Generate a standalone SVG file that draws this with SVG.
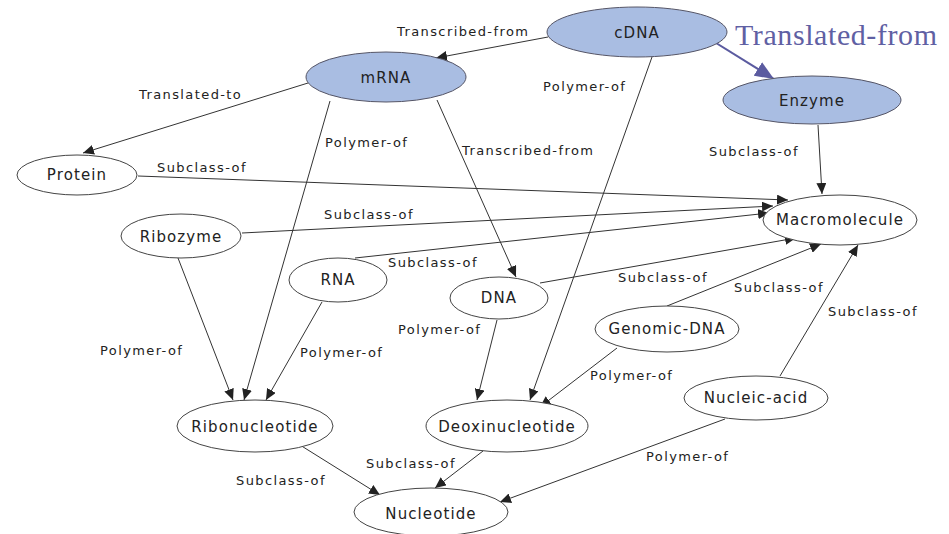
<svg xmlns="http://www.w3.org/2000/svg" width="949" height="534" viewBox="0 0 949 534">
<defs>
<marker id="ah" markerUnits="userSpaceOnUse" markerWidth="12" markerHeight="10" refX="11" refY="5" orient="auto"><path d="M0,0 L11,5 L0,10 Z" fill="#222"/></marker>
<marker id="bh" markerUnits="userSpaceOnUse" markerWidth="20" markerHeight="16" refX="19" refY="8" orient="auto"><path d="M0,0 L19,8 L0,16 Z" fill="#5b5ba0"/></marker>
</defs>
<style>
.n ellipse{fill:#fff;stroke:#444;stroke-width:1}
.n.b ellipse{fill:#a9bde2;stroke:#556;}
.n text{font-family:"DejaVu Sans",sans-serif;font-size:15px;letter-spacing:1.1px;fill:#222;text-anchor:middle;dominant-baseline:central}
.e line{stroke:#333;stroke-width:1;marker-end:url(#ah)}
.l{font-family:"DejaVu Sans",sans-serif;font-size:13px;letter-spacing:1.4px;fill:#222}
</style>
<rect width="949" height="534" fill="#fff"/>
<g id="edges" class="e">
<line x1="548" y1="37" x2="436" y2="58"/>
<line x1="308" y1="83" x2="83" y2="153"/>
<line x1="330" y1="101" x2="244" y2="400"/>
<line x1="437" y1="100" x2="516" y2="277"/>
<line x1="652" y1="57" x2="530" y2="400"/>
<line x1="818" y1="125" x2="822" y2="194"/>
<line x1="138" y1="176" x2="788" y2="200"/>
<line x1="242" y1="233" x2="773" y2="206"/>
<line x1="355" y1="258" x2="769" y2="213"/>
<line x1="540" y1="283" x2="796" y2="238"/>
<line x1="667" y1="306" x2="821" y2="244"/>
<line x1="780" y1="376" x2="858" y2="245"/>
<line x1="178" y1="258" x2="233" y2="400"/>
<line x1="322" y1="302" x2="266" y2="400"/>
<line x1="497" y1="320" x2="477" y2="400"/>
<line x1="617" y1="348" x2="540" y2="407"/>
<line x1="300" y1="445" x2="380" y2="495"/>
<line x1="483" y1="451" x2="435" y2="488"/>
<line x1="725" y1="419" x2="500" y2="502"/>
<line x1="700" y1="33" x2="774" y2="79" style="stroke:#5b5ba0;stroke-width:2;marker-end:url(#bh)"/>
</g>
<g id="edge-labels">
<text class="l" x="397" y="36">Transcribed-from</text>
<text class="l" x="139" y="99">Translated-to</text>
<text class="l" x="325" y="147">Polymer-of</text>
<text class="l" x="462" y="155">Transcribed-from</text>
<text class="l" x="543" y="91">Polymer-of</text>
<text class="l" x="709" y="156">Subclass-of</text>
<text class="l" x="157" y="172">Subclass-of</text>
<text class="l" x="324" y="219">Subclass-of</text>
<text class="l" x="388" y="267">Subclass-of</text>
<text class="l" x="618" y="282">Subclass-of</text>
<text class="l" x="734" y="292">Subclass-of</text>
<text class="l" x="828" y="316">Subclass-of</text>
<text class="l" x="100" y="355">Polymer-of</text>
<text class="l" x="300" y="357">Polymer-of</text>
<text class="l" x="398" y="334">Polymer-of</text>
<text class="l" x="590" y="380">Polymer-of</text>
<text class="l" x="236" y="485">Subclass-of</text>
<text class="l" x="366" y="468">Subclass-of</text>
<text class="l" x="646" y="461">Polymer-of</text>
<text x="735" y="45" textLength="202" style="font-family:'Liberation Serif',serif;font-size:30px;fill:#5f60a3">Translated-from</text>
</g>
<g id="cDNA" class="n b"><ellipse cx="637" cy="32" rx="90" ry="25"/><text x="637" y="33">cDNA</text></g>
<g id="mRNA" class="n b"><ellipse cx="386" cy="77" rx="80" ry="25"/><text x="386" y="78">mRNA</text></g>
<g id="Enzyme" class="n b"><ellipse cx="812" cy="100" rx="89" ry="24"/><text x="812" y="101">Enzyme</text></g>
<g id="Protein" class="n"><ellipse cx="77" cy="175" rx="60" ry="20"/><text x="77" y="175">Protein</text></g>
<g id="Ribozyme" class="n"><ellipse cx="181" cy="236" rx="60" ry="22"/><text x="181" y="237">Ribozyme</text></g>
<g id="Macromolecule" class="n"><ellipse cx="840" cy="220" rx="77" ry="25"/><text x="840" y="220">Macromolecule</text></g>
<g id="RNA" class="n"><ellipse cx="338" cy="280" rx="49" ry="22"/><text x="338" y="280">RNA</text></g>
<g id="DNA" class="n"><ellipse cx="499" cy="298" rx="49" ry="21"/><text x="499" y="298">DNA</text></g>
<g id="Genomic-DNA" class="n"><ellipse cx="667" cy="329" rx="72" ry="23"/><text x="667" y="329">Genomic-DNA</text></g>
<g id="Nucleic-acid" class="n"><ellipse cx="756" cy="398" rx="72" ry="22"/><text x="756" y="398">Nucleic-acid</text></g>
<g id="Ribonucleotide" class="n"><ellipse cx="255" cy="426" rx="78" ry="26"/><text x="255" y="427">Ribonucleotide</text></g>
<g id="Deoxinucleotide" class="n"><ellipse cx="507" cy="426" rx="81" ry="26"/><text x="507" y="427">Deoxinucleotide</text></g>
<g id="Nucleotide" class="n"><ellipse cx="431" cy="512" rx="77" ry="24"/><text x="431" y="514">Nucleotide</text></g>
</svg>
